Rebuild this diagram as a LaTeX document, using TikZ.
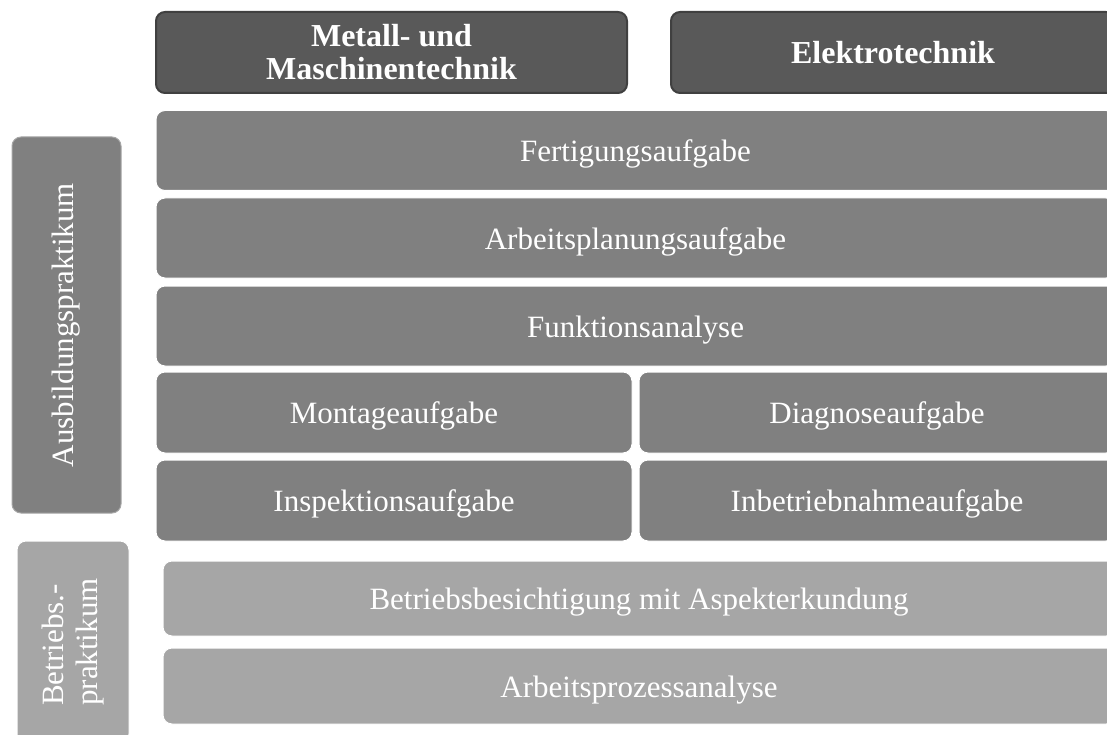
\documentclass[tikz,border=0pt]{standalone}
\usepackage{fontspec}
\setmainfont{Liberation Serif}
\usepackage{tikz}

\definecolor{hdrgray}{HTML}{595959}
\definecolor{hdrline}{HTML}{404040}
\definecolor{midgray}{HTML}{808080}
\definecolor{lightgray}{HTML}{A6A6A6}

\begin{document}
\begin{tikzpicture}[x=1pt,y=-1pt,
  block/.style={rectangle,rounded corners=9pt,fill=#1,draw=white,line width=1pt,
    text=white,inner sep=0pt,text height=22pt,text depth=0pt,font=\fontsize{31}{34}\selectfont},
  sidebar/.style={block=#1,rotate=90,text height={},text depth={}},
  header/.style={rectangle,rounded corners=9pt,fill=hdrgray,draw=hdrline,line width=2pt,
    text=white,inner sep=0pt,align=center,font=\fontsize{32}{33}\selectfont\bfseries}]
  \useasboundingbox (0,0) rectangle (1107,735);
  \clip (0,0) rectangle (1107,735);

  \node[header,minimum width=471pt,minimum height=81pt] (metall) at (391.5,52.5) {Metall- und\\Maschinentechnik};
  \node[header,minimum width=444pt,minimum height=81pt] (elektro) at (893,52.5) {Elektrotechnik};

  \node[block=midgray,minimum width=959pt,minimum height=80pt] (fert) at (635.5,150.5) {Fertigungsaufgabe};
  \node[block=midgray,minimum width=959pt,minimum height=80pt] (plan) at (635.5,238) {Arbeitsplanungsaufgabe};
  \node[block=midgray,minimum width=959pt,minimum height=80pt] (funk) at (635.5,326) {Funktionsanalyse};
  \node[block=midgray,minimum width=476pt,minimum height=81pt] (mont) at (394,412.5) {Montageaufgabe};
  \node[block=midgray,minimum width=476pt,minimum height=81pt] (diag) at (877,412.5) {Diagnoseaufgabe};
  \node[block=midgray,minimum width=476pt,minimum height=81pt] (insp) at (394,500.5) {Inspektionsaufgabe};
  \node[block=midgray,minimum width=476pt,minimum height=81pt] (inbe) at (877,500.5) {Inbetriebnahmeaufgabe};

  \node[sidebar=midgray,draw=lightgray,minimum width=376pt,minimum height=109pt] (ausb) at (66.5,325) {Ausbildungspraktikum};

  \node[block=lightgray,minimum width=952pt,minimum height=75pt] (besi) at (639,598.5) {Betriebsbesichtigung mit Aspekterkundung};
  \node[block=lightgray,minimum width=952pt,minimum height=76pt] (proz) at (639,686) {Arbeitsprozessanalyse};

  \node[sidebar=lightgray,align=left,minimum width=202pt,minimum height=112pt] (betr) at (73,642) {Betriebs.-\\praktikum};
\end{tikzpicture}
\end{document}
